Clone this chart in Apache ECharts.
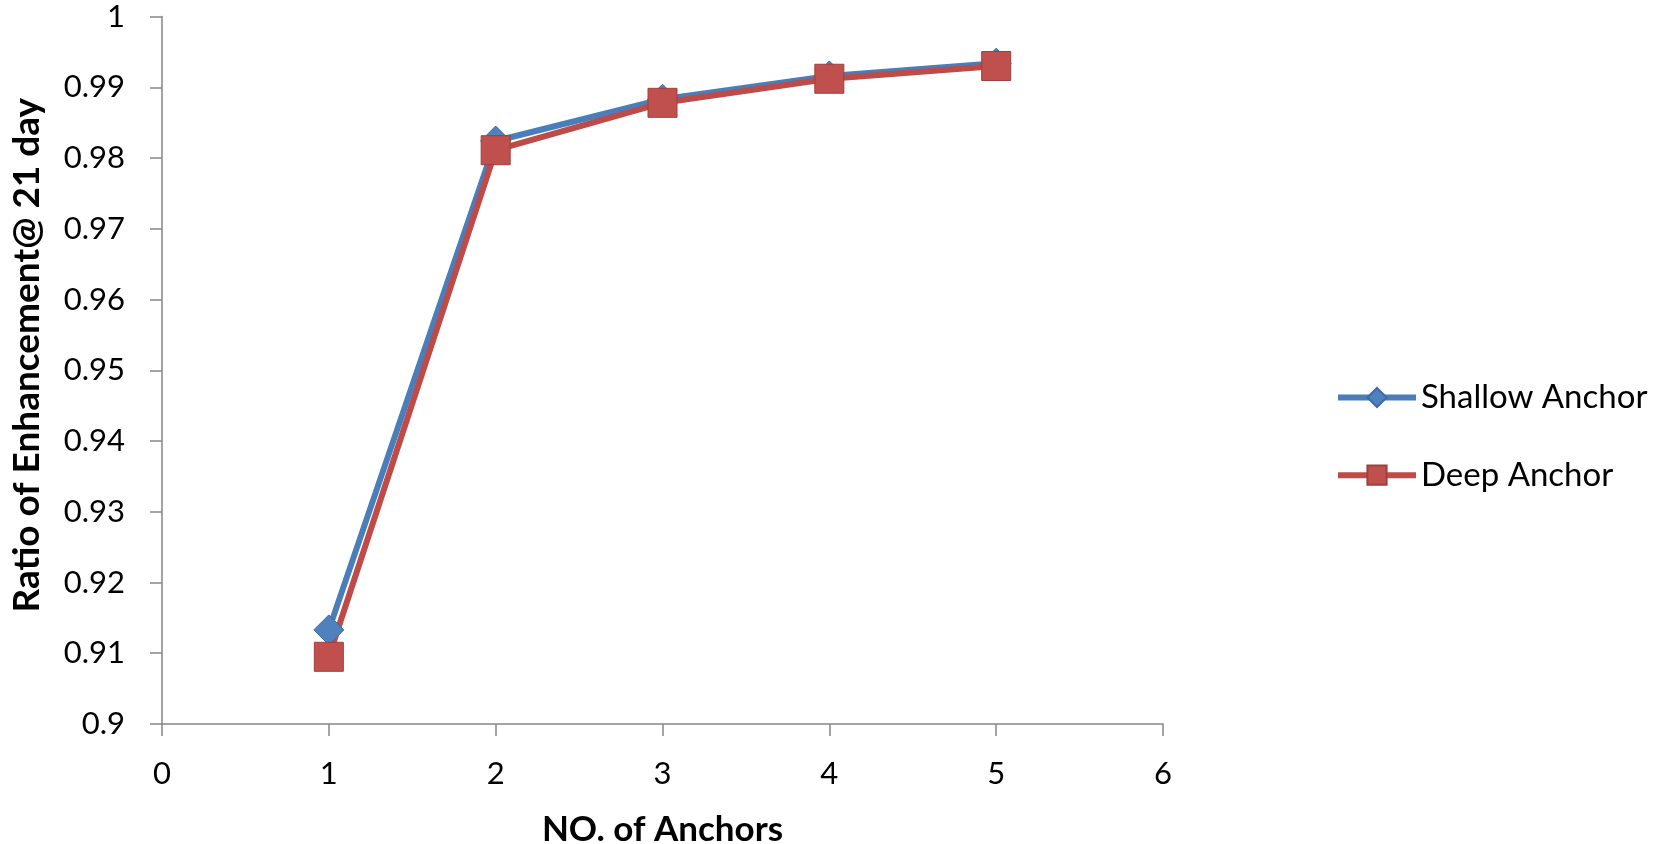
<!DOCTYPE html>
<html>
<head>
<meta charset="utf-8">
<script src="https://cdn.jsdelivr.net/npm/echarts@6/dist/echarts.min.js"></script>
<style>
html,body{margin:0;padding:0;background:#fff;}
#chart{width:1654px;height:844px;}
</style>
</head>
<body>
<div id="chart"></div>
<script>
var anchors = [1, 2, 3, 4, 5];
var shallowAnchor = [0.9133, 0.9824, 0.9883, 0.9916, 0.9934];
var deepAnchor = [0.9095, 0.9811, 0.9878, 0.9912, 0.9930];
var seriesNames = ['Shallow Anchor', 'Deep Anchor'];
var xAxisTitle = 'NO. of Anchors';
var yAxisTitle = 'Ratio of Enhancement@ 21 day';

function pairs(xs, ys) {
  return xs.map(function (x, i) { return [x, ys[i]]; });
}

var FONT = 'Lato';
var chart = echarts.init(document.getElementById('chart'), null, {renderer: 'canvas'});
chart.setOption({
  backgroundColor: '#ffffff',
  animation: false,
  grid: {left: 162, top: 16.5, width: 1001, height: 707.5, containLabel: false, outerBoundsMode: 'none'},
  legend: {
    orient: 'vertical',
    left: 1330,
    top: 376,
    itemWidth: 78,
    itemHeight: 24,
    itemGap: 44.7,
    lineStyle: {width: 6},
    textStyle: {fontFamily: FONT, fontSize: 33, color: '#000'},
    data: seriesNames
  },
  xAxis: {
    type: 'value',
    min: 0, max: 6, interval: 1,
    name: xAxisTitle,
    nameLocation: 'middle',
    nameGap: 88,
    nameTextStyle: {fontFamily: FONT, fontSize: 35, fontWeight: 'bold', color: '#000'},
    axisLine: {show: true, lineStyle: {color: '#868686', width: 1.5}},
    axisTick: {show: true, length: 12, lineStyle: {color: '#868686', width: 1.5}},
    axisLabel: {fontFamily: FONT, fontSize: 31, color: '#000', margin: 34},
    splitLine: {show: false}
  },
  yAxis: {
    type: 'value',
    min: 0.9, max: 1, interval: 0.01,
    name: yAxisTitle,
    nameLocation: 'middle',
    nameRotate: 90,
    nameGap: 116,
    nameTextStyle: {fontFamily: FONT, fontSize: 37, fontWeight: 'bold', color: '#000', padding: [0, 0, 0, 30]},
    axisLine: {show: true, lineStyle: {color: '#868686', width: 1.5}},
    axisTick: {show: true, length: 12, lineStyle: {color: '#868686', width: 1.5}},
    axisLabel: {fontFamily: FONT, fontSize: 31, color: '#000', margin: 37},
    splitLine: {show: false}
  },
  series: [
    {
      name: seriesNames[0],
      type: 'line',
      data: pairs(anchors, shallowAnchor),
      symbol: 'diamond',
      symbolSize: 30,
      lineStyle: {color: '#4a7ebb', width: 6},
      itemStyle: {color: '#4f81bd', borderColor: '#3c6aa3', borderWidth: 1}
    },
    {
      name: seriesNames[1],
      type: 'line',
      data: pairs(anchors, deepAnchor),
      symbol: 'rect',
      symbolSize: 29,
      lineStyle: {color: '#be4b48', width: 6},
      itemStyle: {color: '#c0504d', borderColor: '#a23e3b', borderWidth: 1}
    }
  ]
});
</script>
</body>
</html>
